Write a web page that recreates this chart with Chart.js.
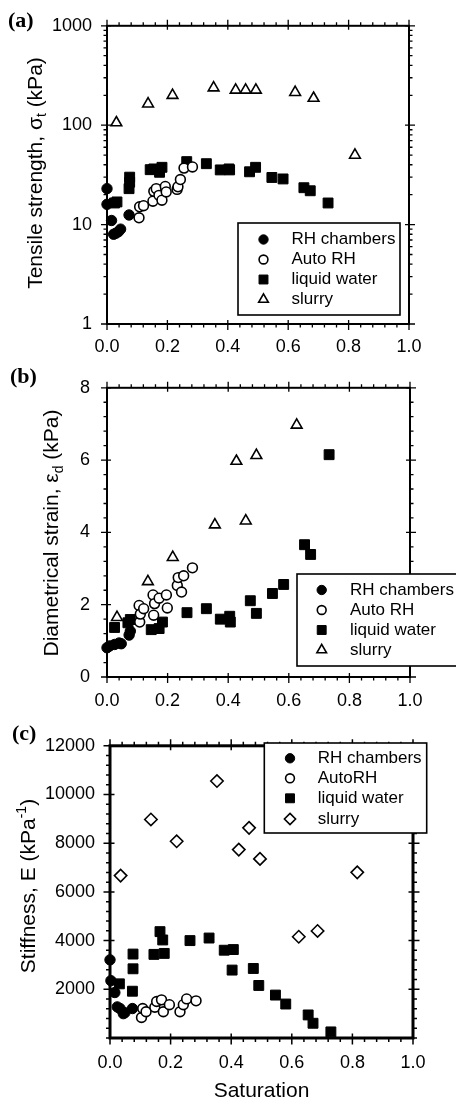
<!DOCTYPE html>
<html>
<head>
<meta charset="utf-8">
<title>Tensile strength, diametrical strain and stiffness vs saturation</title>
<script src="https://cdn.jsdelivr.net/npm/chart.js@4.4.1/dist/chart.umd.min.js"></script>
<style>
  html, body { margin: 0; padding: 0; background: #ffffff; width: 456px; height: 1104px; overflow: hidden; }
  canvas { position: absolute; left: 0; display: block; }
</style>
</head>
<body>
<canvas id="chartA" width="456" height="360" style="top:0px"></canvas>
<canvas id="chartB" width="456" height="360" style="top:360px"></canvas>
<canvas id="chartC" width="456" height="384" style="top:720px"></canvas>
<script>
// ---------------- tick labels ----------------
const xTickLabels = [0, 0.2, 0.4, 0.6, 0.8, 1.0];
const aTickLabels = [1, 10, 100, 1000];
const bTickLabels = [0, 2, 4, 6, 8];
const cTickLabels = [2000, 4000, 6000, 8000, 10000, 12000];

// ---------------- (a) tensile strength (kPa) ----------------
const aRhX = [0.0, 0.0, 0.015, 0.022, 0.03, 0.038, 0.045, 0.073];
const aRhY = [23, 16, 11, 8.0, 8.2, 8.5, 9.0, 12.5];
const aAutoX = [0.106, 0.108, 0.121, 0.152, 0.155, 0.163, 0.172, 0.182, 0.193, 0.196, 0.232, 0.235, 0.243, 0.255, 0.283];
const aAutoY = [11.7, 15.1, 15.5, 17.2, 21.6, 23, 19.7, 17.6, 24.2, 21.3, 22.6, 24, 28.4, 37, 38];
const aWaterX = [0.025, 0.033, 0.073, 0.075, 0.075, 0.143, 0.155, 0.174, 0.182, 0.264, 0.329, 0.375, 0.404, 0.406, 0.472, 0.492, 0.546, 0.583, 0.652, 0.673, 0.732];
const aWaterY = [16.5, 16.9, 23, 26.7, 30, 35.7, 36.3, 33.6, 37.7, 43, 41, 35.5, 36.3, 35.5, 34, 37.7, 29.8, 28.8, 23.5, 21.9, 16.5];
const aSlurryX = [0.031, 0.136, 0.217, 0.353, 0.426, 0.459, 0.493, 0.623, 0.684, 0.821];
const aSlurryY = [106, 164, 200, 238, 226, 226, 226, 214, 187, 50];

// ---------------- (b) diametrical strain ----------------
const bRhX = [0.0, 0.009, 0.025, 0.04, 0.047, 0.073, 0.077];
const bRhY = [0.81, 0.86, 0.90, 0.94, 0.92, 1.16, 1.27];
const bAutoX = [0.106, 0.108, 0.110, 0.121, 0.152, 0.154, 0.157, 0.172, 0.196, 0.199, 0.232, 0.235, 0.246, 0.253, 0.282];
const bAutoY = [1.98, 1.52, 1.74, 1.89, 2.27, 1.71, 2.03, 2.18, 2.27, 1.91, 2.53, 2.75, 2.35, 2.80, 3.02];
const bWaterX = [0.025, 0.069, 0.077, 0.146, 0.172, 0.183, 0.264, 0.328, 0.374, 0.405, 0.407, 0.473, 0.493, 0.546, 0.583, 0.652, 0.672, 0.733];
const bWaterY = [1.37, 1.50, 1.59, 1.31, 1.34, 1.52, 1.78, 1.89, 1.60, 1.68, 1.52, 2.11, 1.76, 2.31, 2.56, 3.66, 3.39, 6.15];
const bSlurryX = [0.033, 0.135, 0.217, 0.356, 0.427, 0.458, 0.493, 0.626];
const bSlurryY = [1.65, 2.64, 3.31, 4.21, 5.97, 4.32, 6.13, 6.97];

// ---------------- (c) stiffness ----------------
const cRhX = [0.0, 0.003, 0.016, 0.024, 0.033, 0.044, 0.049, 0.074];
const cRhY = [3210, 2355, 1868, 1276, 1210, 1000, 1040, 1210];
const cAutoX = [0.104, 0.108, 0.119, 0.148, 0.154, 0.170, 0.176, 0.196, 0.231, 0.242, 0.253, 0.284];
const cAutoY = [842, 1210, 1079, 1263, 1500, 1566, 1079, 1368, 1079, 1368, 1605, 1526];
const cWaterX = [0.031, 0.074, 0.076, 0.076, 0.145, 0.165, 0.174, 0.179, 0.264, 0.327, 0.377, 0.407, 0.403, 0.473, 0.491, 0.546, 0.580, 0.654, 0.670, 0.729];
const cWaterY = [2224, 1921, 2842, 3447, 3434, 4368, 4026, 3474, 4000, 4105, 3605, 3632, 2789, 2855, 2158, 1763, 1395, 947, 605, 250];
const cSlurryX = [0.035, 0.135, 0.220, 0.353, 0.425, 0.459, 0.495, 0.623, 0.685, 0.816];
const cSlurryY = [6671, 8974, 8079, 10553, 7737, 8632, 7355, 4158, 4395, 6803];

// ---------------- rendering ----------------
const SANS = '"Liberation Sans", Arial, Helvetica, sans-serif';
const SERIF = '"Liberation Serif", "Times New Roman", serif';

const STYLE = {
  rh:    { pointStyle: 'circle',   r: 5.2, bg: '#000', bw: 1 },
  auto:  { pointStyle: 'circle',   r: 4.9, bg: '#fff', bw: 1.6 },
  water: { pointStyle: 'rect',     r: 7,   bg: '#000', bw: 1 },
  tri:   { pointStyle: 'triangle', r: 6.2, bg: '#fff', bw: 1.6 },
  dia:   { pointStyle: 'rectRot',  r: 6.2, bg: '#fff', bw: 1.6 }
};

function pts(xs, ys) { return xs.map((x, i) => ({ x: x, y: ys[i] })); }

function linSteps(min, max, step) {
  const out = [];
  for (let k = 0; min + k * step <= max + 1e-9; k++) out.push(min + k * step);
  return out;
}
function logSteps(min, max) {
  const out = [];
  for (let d = min; d < max; d *= 10) for (let k = 1; k < 10; k++) out.push(d * k);
  out.push(max);
  return out;
}

function markerPath(ctx, style, r, x, y) {
  ctx.beginPath();
  if (style === 'circle') {
    ctx.arc(x, y, r, 0, Math.PI * 2);
  } else if (style === 'rect') {
    const s = r * Math.SQRT1_2;
    ctx.rect(x - s, y - s, 2 * s, 2 * s);
  } else if (style === 'triangle') {
    ctx.moveTo(x, y - r);
    ctx.lineTo(x + r * Math.sin(2 * Math.PI / 3), y - r * Math.cos(2 * Math.PI / 3));
    ctx.lineTo(x + r * Math.sin(4 * Math.PI / 3), y - r * Math.cos(4 * Math.PI / 3));
    ctx.closePath();
  } else if (style === 'rectRot') {
    ctx.moveTo(x, y - r); ctx.lineTo(x + r, y); ctx.lineTo(x, y + r); ctx.lineTo(x - r, y);
    ctx.closePath();
  }
}

function makeDecor(cfg) {
  return {
    id: 'decor' + cfg.id,
    beforeDatasetsDraw(chart) {
      const ctx = chart.ctx, a = chart.chartArea;
      const xs = chart.scales.x, ys = chart.scales.y;
      const T = cfg.ticks;
      ctx.save();
      ctx.strokeStyle = '#000';
      ctx.lineWidth = T.width;
      ctx.beginPath();
      cfg.xMinor.forEach(v => {
        const p = xs.getPixelForValue(v);
        ctx.moveTo(p, a.bottom); ctx.lineTo(p, a.bottom + T.minorOut);
        ctx.moveTo(p, a.top); ctx.lineTo(p, a.top - T.minorOut);
      });
      xTickLabels.forEach(v => {
        const p = xs.getPixelForValue(v);
        ctx.moveTo(p, a.bottom - T.majorIn); ctx.lineTo(p, a.bottom + T.majorOut);
        ctx.moveTo(p, a.top + T.majorIn); ctx.lineTo(p, a.top - T.majorOut);
      });
      cfg.yMinor.forEach(v => {
        const p = ys.getPixelForValue(v);
        ctx.moveTo(a.left, p); ctx.lineTo(a.left - T.minorOut, p);
        ctx.moveTo(a.right, p); ctx.lineTo(a.right + T.minorOut, p);
      });
      cfg.yMajor.forEach(v => {
        const p = ys.getPixelForValue(v);
        ctx.moveTo(a.left + T.majorIn, p); ctx.lineTo(a.left - T.majorOut, p);
        ctx.moveTo(a.right - T.majorIn, p); ctx.lineTo(a.right + T.majorOut, p);
      });
      ctx.stroke();
      ctx.lineWidth = cfg.frameWidth;
      ctx.strokeRect(a.left, a.top, a.right - a.left, a.bottom - a.top);
      ctx.restore();
    },
    afterDatasetsDraw(chart) {
      const ctx = chart.ctx, L = cfg.legend;
      ctx.save();
      ctx.fillStyle = '#fff';
      ctx.fillRect(L.box[0], L.box[1], L.box[2] - L.box[0], L.box[3] - L.box[1]);
      ctx.strokeStyle = '#000';
      ctx.lineWidth = 1.6;
      ctx.strokeRect(L.box[0], L.box[1], L.box[2] - L.box[0], L.box[3] - L.box[1]);
      chart.data.datasets.forEach((ds, i) => {
        const y = L.rows[i];
        ctx.fillStyle = ds.pointBackgroundColor;
        ctx.strokeStyle = '#000';
        ctx.lineWidth = ds.pointBorderWidth;
        markerPath(ctx, ds.pointStyle, ds.pointRadius * 0.9, L.mx, y);
        ctx.fill(); ctx.stroke();
        ctx.fillStyle = '#000';
        ctx.font = '17px ' + SANS;
        ctx.textBaseline = 'middle';
        ctx.textAlign = 'left';
        ctx.fillText(ds.label, L.tx, y);
      });
      ctx.restore();
    },
    afterDraw(chart) {
      const ctx = chart.ctx;
      ctx.save();
      // panel letter
      ctx.fillStyle = '#000';
      ctx.font = 'bold 22px ' + SERIF;
      ctx.textBaseline = 'alphabetic';
      ctx.textAlign = 'left';
      ctx.fillText(cfg.panel.text, cfg.panel.x, cfg.panel.y);
      // rotated y-axis title with sub/superscripts
      const fs = 21;
      const runs = cfg.yTitle.runs;
      const fontFor = r => (r.sub || r.sup ? Math.round(fs * 0.68) : fs) + 'px ' + SANS;
      let total = 0;
      const widths = runs.map(r => { ctx.font = fontFor(r); const w = ctx.measureText(r.t).width; total += w; return w; });
      ctx.translate(cfg.yTitle.x, cfg.yTitle.y);
      ctx.rotate(-Math.PI / 2);
      let px = -total / 2;
      runs.forEach((r, i) => {
        ctx.font = fontFor(r);
        const dy = r.sub ? fs * 0.22 : (r.sup ? -fs * 0.42 : 0);
        ctx.fillText(r.t, px, dy);
        px += widths[i];
      });
      ctx.restore();
    }
  };
}

function makeChart(canvasId, cfg) {
  const H = document.getElementById(canvasId).height;
  const A = cfg.area;
  const datasets = cfg.series.map(s => ({
    label: s.label,
    data: pts(s.xs, s.ys),
    pointStyle: s.style.pointStyle,
    pointRadius: s.style.r,
    pointHoverRadius: s.style.r,
    pointBackgroundColor: s.style.bg,
    pointBorderColor: '#000',
    pointBorderWidth: s.style.bw,
    backgroundColor: s.style.bg,
    borderColor: '#000',
    borderWidth: s.style.bw,
    showLine: false,
    clip: false
  }));
  const yScale = {
    type: cfg.yType,
    position: 'left',
    min: cfg.yMin,
    max: cfg.yMax,
    grid: { display: false, drawTicks: false },
    border: { display: false },
    ticks: {
      font: { family: SANS, size: 18 },
      color: '#000',
      padding: cfg.yLabelPad,
      autoSkip: false,
      callback: v => String(v)
    },
    afterBuildTicks: s => { s.ticks = cfg.yMajorLabels.map(v => ({ value: v })); },
    afterFit: s => { s.width = A.left; }
  };
  const xScale = {
    type: 'linear',
    position: 'bottom',
    min: 0,
    max: 1,
    grid: { display: false, drawTicks: false },
    border: { display: false },
    ticks: {
      font: { family: SANS, size: 18 },
      color: '#000',
      padding: cfg.xLabelPad,
      autoSkip: false,
      maxRotation: 0,
      callback: v => Number(v).toFixed(1)
    },
    afterBuildTicks: s => { s.ticks = xTickLabels.map(v => ({ value: v })); },
    afterFit: s => { s.height = H - A.bottom; },
    title: cfg.xTitle
      ? { display: true, text: cfg.xTitle, color: '#000', font: { family: SANS, size: 21 }, padding: { top: 0, bottom: cfg.xTitlePad } }
      : { display: false }
  };
  return new Chart(document.getElementById(canvasId), {
    type: 'scatter',
    data: { datasets: datasets },
    options: {
      responsive: false,
      animation: false,
      devicePixelRatio: 1,
      events: [],
      layout: { padding: { left: 0, top: A.top, right: 456 - A.right, bottom: 0 } },
      plugins: { legend: { display: false }, tooltip: { enabled: false }, title: { display: false } },
      scales: { x: xScale, y: yScale }
    },
    plugins: [makeDecor(cfg)]
  });
}

const TICKS_AB = { width: 1.3, majorOut: 6, majorIn: 4, minorOut: 3.5 };
const TICKS_C = { width: 1.5, majorOut: 6.5, majorIn: 4.5, minorOut: 4 };

makeChart('chartA', {
  id: 'A',
  area: { left: 107, right: 409, top: 22, bottom: 324 },
  yType: 'logarithmic', yMin: 1, yMax: 1000,
  yMajorLabels: aTickLabels, yMajor: aTickLabels, yMinor: logSteps(1, 1000),
  xMinor: linSteps(0, 1, 0.04),
  xLabelPad: 12, yLabelPad: 15,
  frameWidth: 2, ticks: TICKS_AB,
  series: [
    { label: 'RH chambers', xs: aRhX, ys: aRhY, style: STYLE.rh },
    { label: 'Auto RH', xs: aAutoX, ys: aAutoY, style: STYLE.auto },
    { label: 'liquid water', xs: aWaterX, ys: aWaterY, style: STYLE.water },
    { label: 'slurry', xs: aSlurryX, ys: aSlurryY, style: STYLE.tri }
  ],
  legend: { box: [238, 223, 400, 315], mx: 263.5, tx: 291.5, rows: [239.5, 259.5, 279.5, 299.5] },
  panel: { text: '(a)', x: 8, y: 27 },
  yTitle: { x: 41.7, y: 173, runs: [{ t: 'Tensile strength, σ' }, { t: 't', sub: true }, { t: ' (kPa)' }] }
});

makeChart('chartB', {
  id: 'B',
  area: { left: 107, right: 410, top: 15, bottom: 317 },
  yType: 'linear', yMin: 0, yMax: 8,
  yMajorLabels: bTickLabels, yMajor: bTickLabels, yMinor: linSteps(0, 8, 0.4),
  xMinor: linSteps(0, 1, 0.04),
  xLabelPad: 13, yLabelPad: 17,
  frameWidth: 2, ticks: TICKS_AB,
  series: [
    { label: 'RH chambers', xs: bRhX, ys: bRhY, style: STYLE.rh },
    { label: 'Auto RH', xs: bAutoX, ys: bAutoY, style: STYLE.auto },
    { label: 'liquid water', xs: bWaterX, ys: bWaterY, style: STYLE.water },
    { label: 'slurry', xs: bSlurryX, ys: bSlurryY, style: STYLE.tri }
  ],
  legend: { box: [297, 214, 470, 306], mx: 321.7, tx: 350, rows: [230, 250, 270, 290] },
  panel: { text: '(b)', x: 10, y: 23 },
  yTitle: { x: 58.3, y: 173, runs: [{ t: 'Diametrical strain, ε' }, { t: 'd', sub: true }, { t: ' (kPa)' }] }
});

makeChart('chartC', {
  id: 'C',
  area: { left: 110, right: 413, top: 15, bottom: 318 },
  yType: 'linear', yMin: 0, yMax: 12000,
  yMajorLabels: cTickLabels, yMajor: cTickLabels, yMinor: linSteps(0, 12000, 400),
  xMinor: linSteps(0, 1, 0.04),
  xLabelPad: 14, yLabelPad: 15,
  xTitle: 'Saturation', xTitlePad: 0,
  frameWidth: 3, ticks: TICKS_C,
  series: [
    { label: 'RH chambers', xs: cRhX, ys: cRhY, style: STYLE.rh },
    { label: 'AutoRH', xs: cAutoX, ys: cAutoY, style: STYLE.auto },
    { label: 'liquid water', xs: cWaterX, ys: cWaterY, style: STYLE.water },
    { label: 'slurry', xs: cSlurryX, ys: cSlurryY, style: STYLE.dia }
  ],
  legend: { box: [264.3, 23, 426.7, 113], mx: 290, tx: 317.7, rows: [38.3, 58.3, 78.3, 99] },
  panel: { text: '(c)', x: 12, y: 20 },
  yTitle: { x: 35, y: 166, runs: [{ t: 'Stiffness, E (kPa' }, { t: '-1', sup: true }, { t: ')' }] }
});
</script>
</body>
</html>
